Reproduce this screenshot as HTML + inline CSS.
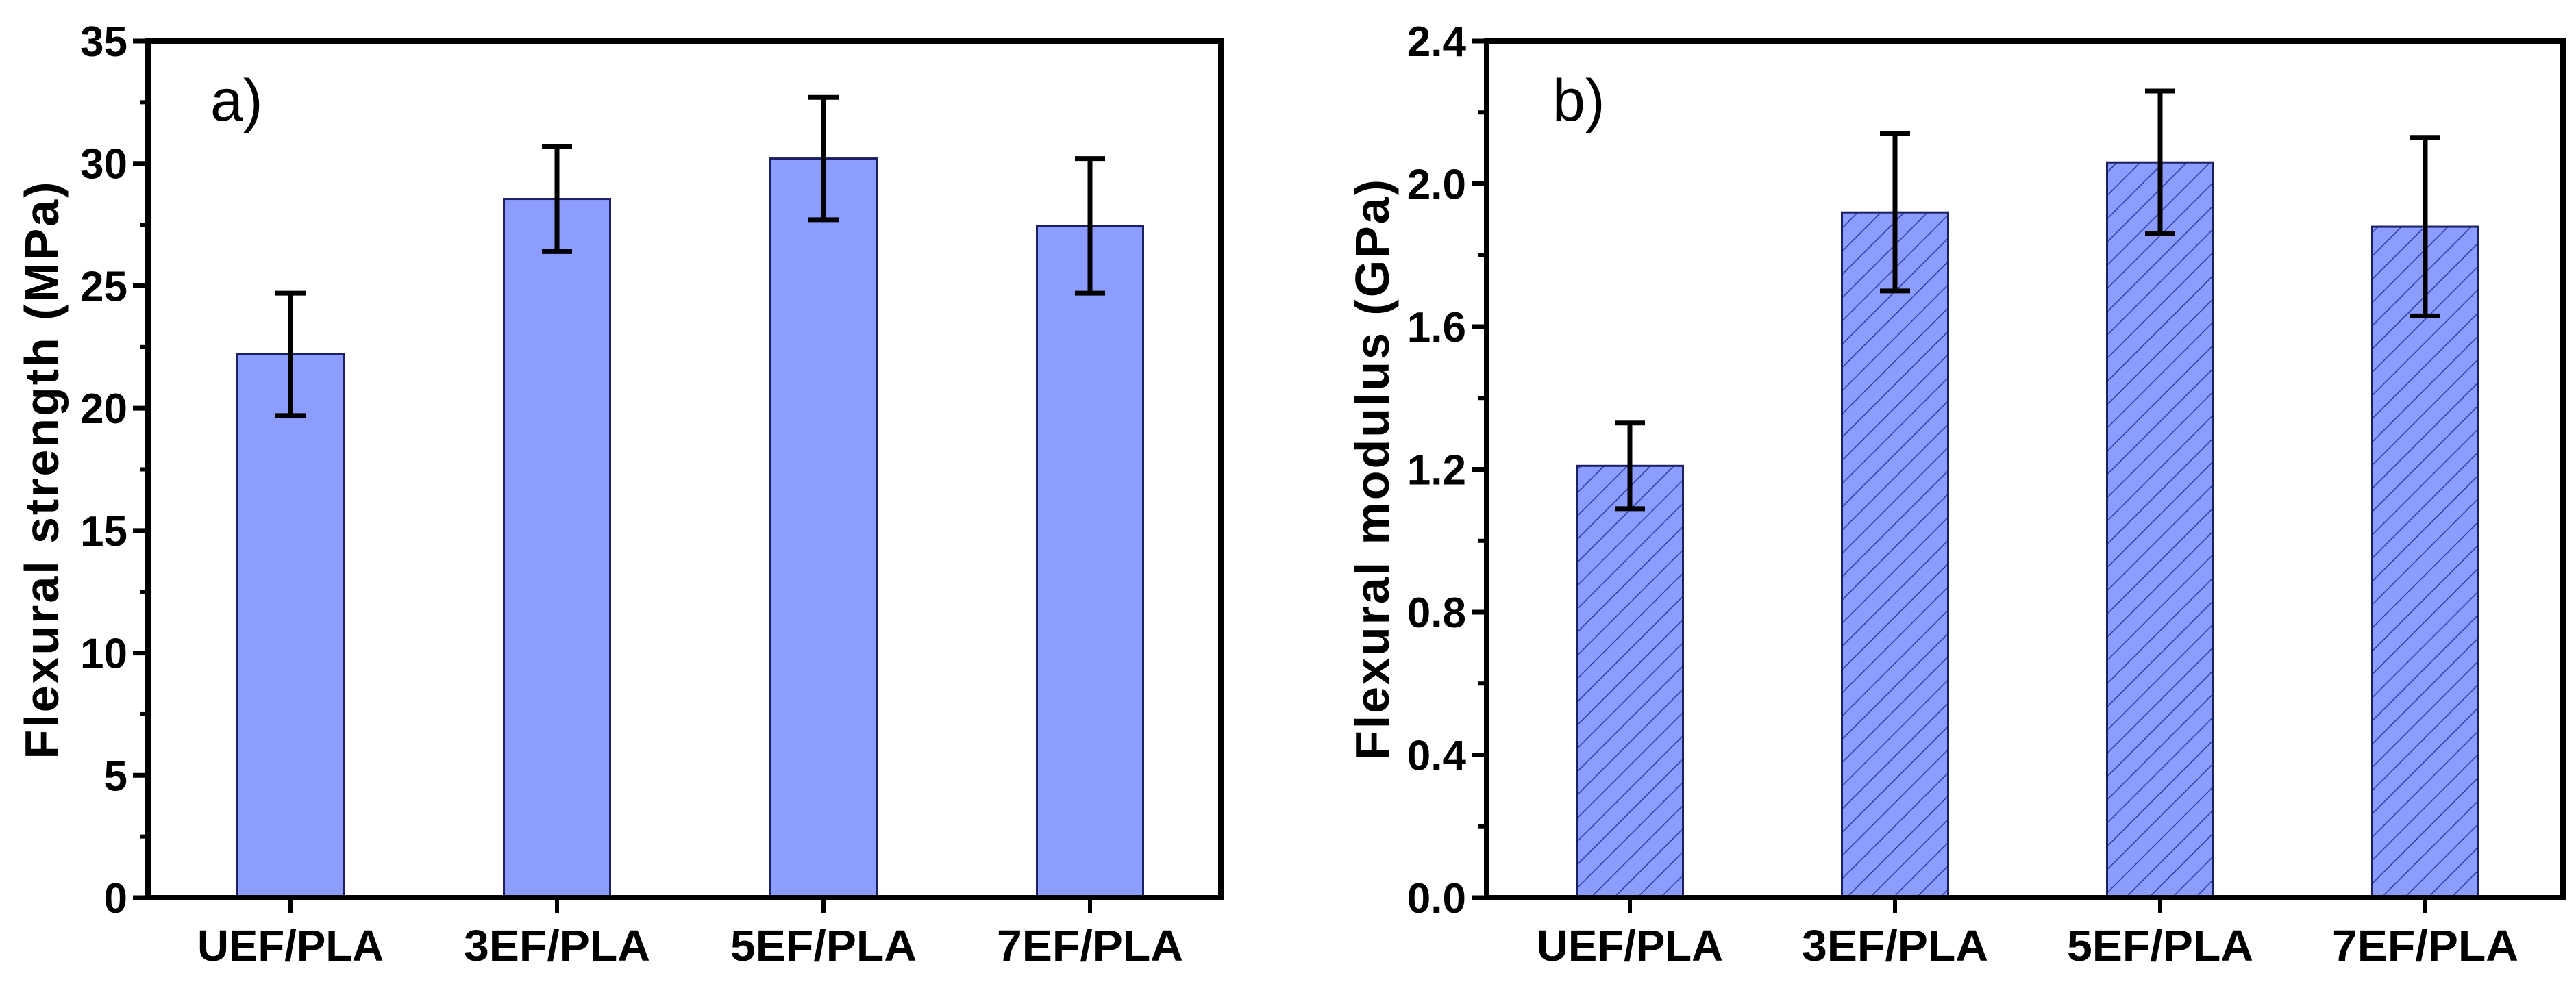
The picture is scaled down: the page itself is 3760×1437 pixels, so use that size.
<!DOCTYPE html>
<html><head><meta charset="utf-8">
<style>
html,body{margin:0;padding:0;background:#fff;}
svg{display:block;}
text{font-family:"Liberation Sans Narrow","Liberation Sans",sans-serif;}
</style></head>
<body>
<svg id="chart" width="3760" height="1437" viewBox="0 0 3760 1437" xmlns="http://www.w3.org/2000/svg">
<defs>
<pattern id="hatch" patternUnits="userSpaceOnUse" width="24" height="24" patternTransform="rotate(45)">
<rect width="24" height="24" fill="#8c9cff"/>
<line x1="0" y1="0" x2="0" y2="24" stroke="#2a3aa8" stroke-width="3"/>
</pattern>
</defs>
</svg>
<script>
const categories = ["UEF/PLA","3EF/PLA","5EF/PLA","7EF/PLA"];
const strengthValues = [22.2, 28.55, 30.2, 27.45];
const strengthErrors = [2.5, 2.15, 2.5, 2.75];
const modulusValues = [1.21, 1.92, 2.06, 1.88];
const modulusErrors = [0.12, 0.22, 0.20, 0.25];
const strengthTicks = [0,5,10,15,20,25,30,35];
const modulusTicks = [0.0,0.4,0.8,1.2,1.6,2.0,2.4];

const svg = document.getElementById('chart');
const NS = 'http://www.w3.org/2000/svg';
function mk(tag, attrs, parent){
  const e = document.createElementNS(NS, tag);
  for (const k in attrs) e.setAttribute(k, attrs[k]);
  (parent||svg).appendChild(e);
  return e;
}

function panel(cfg){
  const g = mk('g', {});
  
  
  const L=cfg.left, R=cfg.right, T=60, B=1311;
  const xs = v => L + cfg.firstOffset + v*cfg.step;
  const ys = v => B - (v - cfg.yMin)/(cfg.yMax - cfg.yMin)*(B-T);
  const bw = 155;
  cfg.values.forEach((v,i)=>{
    const r = mk('rect', {x: xs(i)-bw/2, y: ys(v), width: bw, height: ys(0)-ys(v), fill: cfg.fill, stroke:'#1a2060', 'stroke-width':3}, g);
    
    
  });
  cfg.values.forEach((v,i)=>{
    const e = cfg.errors[i], cx = xs(i);
    const eg = mk('g', {stroke:'#000','stroke-width':7}, g);
    
    
    mk('line',{x1:cx,x2:cx,y1:ys(v+e),y2:ys(v-e)},eg);
    mk('line',{x1:cx-22,x2:cx+22,y1:ys(v+e),y2:ys(v+e)},eg);
    mk('line',{x1:cx-22,x2:cx+22,y1:ys(v-e),y2:ys(v-e)},eg);
  });
  const fr = mk('rect',{x:L,y:T,width:R-L,height:B-T,fill:'none',stroke:'#000','stroke-width':8},g);
  
  
  cfg.ticks.forEach((t,i)=>{
    const y = ys(t);
    mk('line',{x1:L-22,x2:L,y1:y,y2:y,stroke:'#000','stroke-width':7},g);
    if (i < cfg.ticks.length-1){
      const ym = ys(t + (cfg.ticks[1]-cfg.ticks[0])/2);
      mk('line',{x1:L-12,x2:L,y1:ym,y2:ym,stroke:'#000','stroke-width':6},g);
    }
    const tx = mk('text',{x:L-30,y:y+22,'text-anchor':'end','font-size':62,'font-weight':'bold',fill:'#000'},g);
    tx.textContent = cfg.fmt(t);
    
    
  });
  categories.forEach((c,i)=>{
    const x = xs(i);
    mk('line',{x1:x,x2:x,y1:B,y2:B+22,stroke:'#000','stroke-width':6},g);
    const tx = mk('text',{x:x,y:1403,'text-anchor':'middle','font-size':64,'font-weight':'bold',fill:'#000',
      textLength:272, lengthAdjust:'spacingAndGlyphs'},g);
    tx.textContent = c;
    
    
  });
  const yt = mk('text',{x:0,y:0,'text-anchor':'middle','font-size':70,'font-weight':'bold',fill:'#000',
    textLength:cfg.titleLen, lengthAdjust:'spacing',
    transform:'translate('+cfg.titleX+','+cfg.titleY+') rotate(-90)', style:'font-family:"Liberation Sans",sans-serif'},g);
  yt.textContent = cfg.title;
  
  
  const pl = mk('text',{x:cfg.labelX,y:176,'font-size':86,fill:'#000'},g);
  pl.textContent = cfg.label;
  
  
}

panel({name:'strength-panel', left:216, right:1782, firstOffset:208, step:389, yMin:0, yMax:35, values:strengthValues, errors:strengthErrors,
  ticks:strengthTicks, fmt:t=>String(t), fill:'#8c9cff', title:'Flexural strength (MPa)', titleX:85, titleY:687, titleLen:843, labelX:307, label:'a)'});
panel({name:'modulus-panel', left:2170, right:3741, firstOffset:209, step:387, yMin:0, yMax:2.4, values:modulusValues, errors:modulusErrors,
  ticks:modulusTicks, fmt:t=>t.toFixed(1), fill:'url(#hatch)', title:'Flexural modulus (GPa)', titleX:2027, titleY:686, titleLen:848, labelX:2266, label:'b)'});
</script>
</body></html>
